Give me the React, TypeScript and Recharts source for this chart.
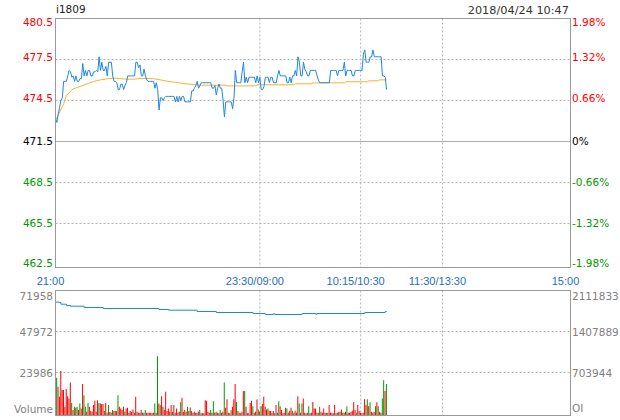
import React from 'react';
import { ComposedChart, Line, Bar, Cell, XAxis, YAxis, CartesianGrid, ReferenceLine } from 'recharts';

const CODE = 'i1809';
const STAMP = '2018/04/24 10:47';

// x is the minute slot of the trading day (21:00 ... 15:00)
const TIME_TICKS = [0, 150, 224, 284, 378];
const TIME_LABELS = ['21:00', '23:30/09:00', '10:15/10:30', '11:30/13:30', '15:00'];

const PRE_CLOSE = 471.5;
const PRICE_TICKS = [462.5, 465.5, 468.5, 471.5, 474.5, 477.5, 480.5];
const PCT_LABELS = ['-1.98%', '-1.32%', '-0.66%', '0%', '0.66%', '1.32%', '1.98%'];

const VOL_TICKS = [0, 23986, 47972, 71958];
const VOL_LABELS = ['Volume', '23986', '47972', '71958'];
const OI_TICKS = [0, 703944, 1407889, 2111833];
const OI_LABELS = ['OI', '703944', '1407889', '2111833'];

// last price, one per minute
const PRICE = [
  473.2, 472.9, 473.5, 474.0, 474.5, 474.7, 475.9, 475.9, 475.9, 476.3,
  476.7, 476.6, 476.2, 476.3, 475.9, 476.3, 475.9, 475.9, 476.1, 476.1,
  477.2, 476.3, 476.7, 476.3, 476.7, 476.7, 476.3, 476.3, 476.6, 476.6,
  476.7, 476.6, 477.7, 476.7, 477.3, 476.7, 476.7, 477.0, 476.3, 477.3,
  477.3, 477.3, 476.3, 475.9, 475.9, 475.8, 475.3, 475.3, 475.7, 475.7,
  475.3, 475.6, 475.8, 476.3, 476.3, 476.3, 476.3, 476.3, 476.3, 477.3,
  477.3, 476.9, 477.1, 476.3, 476.3, 476.8, 476.3, 476.0, 475.9, 475.9,
  475.9, 475.9, 475.9, 475.4, 475.8, 475.3, 473.8, 474.7, 474.7, 474.5,
  474.7, 474.8, 474.8, 474.8, 474.8, 474.8, 474.8, 474.8, 474.4, 474.8,
  474.4, 474.8, 474.5, 474.8, 474.8, 474.4, 474.4, 474.4, 474.4, 474.4,
  475.2, 475.2, 475.4, 475.6, 475.9, 475.4, 475.6, 475.8, 475.8, 475.8,
  475.8, 475.8, 475.8, 475.8, 475.8, 475.4, 475.4, 475.6, 474.9, 475.4,
  475.7, 475.4, 475.4, 474.5, 473.3, 474.4, 474.4, 474.4, 474.4, 474.4,
  473.9, 474.7, 476.7, 475.8, 475.8, 475.8, 475.8, 476.6, 477.3, 475.8,
  476.2, 475.8, 476.2, 476.2, 476.2, 476.2, 476.2, 475.8, 476.3, 475.8,
  476.2, 475.3, 475.3, 475.5, 476.2, 476.2, 476.2, 475.8, 476.2, 476.2,
  475.8, 475.8, 475.8, 476.3, 476.7, 476.3, 476.3, 476.3, 476.3, 476.3,
  475.8, 475.8, 476.2, 475.8, 476.3, 476.3, 476.7, 476.3, 477.7, 477.3,
  476.3, 476.3, 477.3, 476.8, 476.6, 476.3, 476.3, 476.7, 476.7, 476.7,
  476.7, 476.7, 476.3, 476.0, 475.8, 475.8, 475.8, 475.8, 475.8, 475.8,
  475.8, 475.8, 476.7, 476.7, 476.7, 476.7, 476.7, 476.3, 476.7, 476.7,
  476.7, 476.7, 477.3, 476.3, 476.7, 476.7, 476.7, 476.7, 476.3, 476.3,
  476.7, 476.7, 476.7, 476.7, 476.7, 476.7, 477.9, 478.2, 477.3, 477.3,
  477.3, 477.7, 477.7, 478.2, 477.7, 477.7, 477.7, 477.7, 477.7, 477.7,
  476.3, 476.3, 476.2, 475.3,
];

// average price, read at these minutes
const AVG_IDX = [
  0, 1, 3, 6, 8, 11, 13, 18, 23, 28, 33, 38, 43, 47, 52, 57, 62, 67, 72, 77,
  82, 87, 92, 96, 101, 106, 125, 126, 147, 148, 175, 176, 188, 189, 212, 213, 229, 230, 237, 238, 243,
];
const AVG_VAL = [
  473.3, 473.16, 473.65, 474.26, 474.87, 475.18, 475.35, 475.52, 475.72, 475.89,
  476.01, 476.09, 476.13, 476.11, 476.06, 476.06, 476.11, 476.11, 476.09, 476.01,
  475.91, 475.84, 475.77, 475.72, 475.67, 475.62, 475.62, 475.57, 475.57, 475.65,
  475.65, 475.72, 475.72, 475.79, 475.79, 475.87, 475.87, 475.94, 475.94, 476.01, 476.01,
];

// volume per minute, r = up, g = down
const VOLUME = [
  65900, 20900, 15600, 9800, 24800, 13700, 13700, 3900, 14400, 10100,
  8800, 18100, 6200, 2000, 3900, 3300, 3900, 2000, 5900, 2900,
  17200, 10700, 3900, 1000, 6200, 3900, 1400, 1000, 4900,
  7400, 1000, 7800, 6200, 5900, 5500, 5500, 1400, 6200, 400,
  4900, 1000, 400, 2000, 1400, 1400, 1400, 10700, 3900, 2900,
  2000, 3900, 1000, 2900, 3300, 400, 1400, 1000, 2300, 400,
  9800, 1000, 400, 400, 2000, 400, 400, 2000, 400, 400,
  400, 400, 200, 400, 5900, 400, 33500, 5900, 4900, 10100,
  3900, 2000, 12700, 1400, 2900, 1000, 4900, 1000, 4900, 400,
  2900, 400, 1000, 6600, 9200, 1000, 2000, 1000, 3900, 1400,
  3500, 1400, 400, 1000, 400, 400, 1000,
  2000, 200, 200, 200, 7800, 7400, 1000, 400, 2000, 400,
  7200, 400, 1000, 400, 200, 2000, 400, 1000, 18100, 3300,
  8400, 400, 200, 2000, 3900, 8400, 17200, 6800, 1400, 400,
  200, 1000, 13100, 13100, 3900, 200, 200, 6200, 7400, 4300,
  400, 1000, 8200, 2300, 1000, 4300, 5500, 9800, 3900, 2300,
  2900, 1600, 1400, 400, 1400, 200, 4900, 400, 7200, 4300,
  2000, 200, 400, 3300, 2900, 400, 1600, 3300, 1600, 400,
  1600, 400, 10100, 5900, 400, 5900, 8800, 400, 200, 400,
  4300, 200, 400, 6800, 2900, 2900, 400, 400, 3900, 1000,
  400, 2900, 400, 400, 400, 4900, 400, 400, 200, 4900,
  200, 400, 1000, 1000, 2300, 400, 400, 1000, 4300, 400,
  400, 1000, 1600, 6600, 2000, 400, 4900, 1400, 400, 200,
  400, 8400, 4900, 8400, 4300, 6600, 1000, 400, 1000, 4300,
  6600, 4300, 1000, 400, 8800, 19500, 13100, 17200,
];
const VOL_SIDE = [
  'rgrrrrrrrr', 'rrgrgrgrgr', 'rggrgrrrr', 'rrrgrrrgrr', 'grrgrrrgrr', 'rrgrrrrrrr',
  'rrgrrgrgrr', 'rrrrgrgrgr', 'rrrrrrrgrr', 'rrrgrrrrgr', 'rgrrrrr',
  'grrrrrrrgr', 'grrgrgrrgr', 'rrrgrrrgrr', 'rrrgrrrrrg', 'rrrgrgrrrr', 'grrrrgrrgr',
  'rrrrgrrrgr', 'rrrgrgrrgr', 'grrrrrrrgr', 'rrrgrrrrrr', 'grrgrrgrgr', 'rrrrrgrrrr',
  'rrrgrgrrrg', 'rgrrggrg',
].join('');

// open interest, step changes at these minutes
const OI_IDX = [0, 3, 4, 8, 11, 21, 35, 76, 83, 104, 118, 145, 154, 160, 161, 181, 191, 192, 227, 242, 243];
const OI_VAL = [
  1910900, 1906000, 1876600, 1854300, 1842300, 1819900, 1802800, 1785600, 1773600, 1751300,
  1734100, 1717000, 1699800, 1712000, 1699800, 1717000, 1705000, 1717000, 1734100, 1751300, 1760000,
];

const PRICE_DOMAIN = [462.28, 480.5];
const VOL_DOMAIN = [-1170, 71958];
const OI_DOMAIN = [-34342, 2111833];

const rows = PRICE.map((p, i) => ({
  i,
  price: p,
  avg: null as number | null,
  vol: [VOL_DOMAIN[0], VOLUME[i]],
  oi: null as number | null,
}));
AVG_IDX.forEach((idx, k) => { rows[idx].avg = AVG_VAL[k]; });
OI_IDX.forEach((idx, k) => { rows[idx].oi = OI_VAL[k]; });

const FONT = '"DejaVu Sans", sans-serif';
const RED = '#ff0000';
const GREEN = '#009900';
const BLUE = '#1f86e0';
const ORANGE = '#f7b130';
const GRID = '#b4b4b4';
const BORDER = '#999999';

const sideColor = (v: number) => (v > PRE_CLOSE ? RED : v < PRE_CLOSE ? GREEN : '#000');

const PriceTick = (props: any) => {
  const { y, payload } = props;
  const v = payload.value;
  const off = v === 480.5 ? 3.5 : v === 462.5 ? -1.5 : v > PRE_CLOSE ? -2 : 0;
  return (
    <text x={53} y={y + off} dy="0.36em" textAnchor="end" fontSize={10.5} fontFamily={FONT} fill={sideColor(v)}>
      {v.toFixed(1)}
    </text>
  );
};

const PctTick = (props: any) => {
  const { y, payload } = props;
  const v = payload.value;
  const k = PRICE_TICKS.indexOf(v);
  const off = v === 480.5 ? 3.5 : v === 462.5 ? -1.5 : v > PRE_CLOSE ? -2 : 0;
  return (
    <text x={572} y={y + off} dy="0.36em" textAnchor="start" fontSize={10.5} fontFamily={FONT} fill={sideColor(v)}>
      {PCT_LABELS[k]}
    </text>
  );
};

const TimeTick = (props: any) => {
  const { x, payload } = props;
  const k = TIME_TICKS.indexOf(payload.value);
  return (
    <text x={x - 5} y={284.5} textAnchor="middle" fontSize={11} fontFamily='"Liberation Sans", Arial, sans-serif' fill="#1f70b8">
      {TIME_LABELS[k]}
    </text>
  );
};

const makeLowerTick = (ticks: number[], labels: string[], x: number, anchor: 'start' | 'end') => (props: any) => {
  const { y, payload } = props;
  const k = ticks.indexOf(payload.value);
  if (k === 0) {
    return (
      <text x={x} y={y - 1} textAnchor={anchor} fontSize={10.5} fontFamily={FONT} fill="#808080">
        {labels[k]}
      </text>
    );
  }
  const off = k === ticks.length - 1 ? 5.5 : 1;
  return (
    <text x={x} y={y + off} dy="0.36em" textAnchor={anchor} fontSize={10.5} fontFamily={FONT} fill="#808080">
      {labels[k]}
    </text>
  );
};

const VolTick = makeLowerTick(VOL_TICKS, VOL_LABELS, 53, 'end');
const OiTick = makeLowerTick(OI_TICKS, OI_LABELS, 572, 'start');

export default function App() {
  return (
    <div style={{ position: 'absolute', left: 0, top: 0, width: 620, height: 420, background: '#fff' }}>
      <div style={{ position: 'absolute', left: 0, top: 0 }}>
        <ComposedChart width={620} height={290} data={rows} margin={{ top: 18.5, right: 0, bottom: 0, left: 0 }}>
          <CartesianGrid
            yAxisId="p"
            stroke={GRID}
            strokeDasharray="2 2"
            horizontalValues={[465.5, 468.5, 474.5, 477.5]}
            verticalValues={[150, 224, 284]}
          />
          <XAxis
            dataKey="i"
            type="number"
            domain={[0, 378]}
            ticks={TIME_TICKS}
            interval={0}
            allowDataOverflow
            axisLine={false}
            tickLine={false}
            height={22.5}
            tick={TimeTick}
          />
          <YAxis
            yAxisId="p"
            type="number"
            domain={PRICE_DOMAIN}
            ticks={PRICE_TICKS}
            interval={0}
            allowDataOverflow
            axisLine={false}
            tickLine={false}
            width={55.5}
            tick={PriceTick}
          />
          <YAxis
            yAxisId="pct"
            orientation="right"
            type="number"
            domain={PRICE_DOMAIN}
            ticks={PRICE_TICKS}
            interval={0}
            allowDataOverflow
            axisLine={false}
            tickLine={false}
            width={49.5}
            tick={PctTick}
          />
          <ReferenceLine yAxisId="p" y={PRE_CLOSE} stroke="#aaaaaa" />
          <Line yAxisId="p" dataKey="avg" type="linear" stroke={ORANGE} strokeWidth={1} dot={false} connectNulls isAnimationActive={false} />
          <Line yAxisId="p" dataKey="price" type="linear" stroke={BLUE} strokeWidth={1} dot={false} isAnimationActive={false} />
        </ComposedChart>
      </div>

      <div style={{ position: 'absolute', left: 0, top: 280 }}>
        <ComposedChart width={620} height={140} data={rows} margin={{ top: 10.5, right: 0, bottom: 4.5, left: 0 }}>
          <CartesianGrid
            yAxisId="v"
            stroke={GRID}
            strokeDasharray="2 2"
            horizontalValues={[23986, 47972]}
            verticalValues={[150, 224, 284]}
          />
          <XAxis dataKey="i" type="number" domain={[0, 378]} ticks={TIME_TICKS} allowDataOverflow hide />
          <YAxis
            yAxisId="v"
            type="number"
            domain={VOL_DOMAIN}
            ticks={VOL_TICKS}
            interval={0}
            allowDataOverflow
            axisLine={false}
            tickLine={false}
            width={55.5}
            tick={VolTick}
          />
          <YAxis
            yAxisId="oi"
            orientation="right"
            type="number"
            domain={OI_DOMAIN}
            ticks={OI_TICKS}
            interval={0}
            allowDataOverflow
            axisLine={false}
            tickLine={false}
            width={49.5}
            tick={OiTick}
          />
          <Bar yAxisId="v" dataKey="vol" barSize={1} isAnimationActive={false}>
            {VOLUME.map((_, i) => (
              <Cell key={i} fill={VOL_SIDE[i] === 'g' ? GREEN : RED} />
            ))}
          </Bar>
          <Line yAxisId="oi" dataKey="oi" type="stepAfter" stroke={BLUE} strokeWidth={1} dot={false} connectNulls isAnimationActive={false} />
        </ComposedChart>
      </div>

      <svg width={620} height={420} style={{ position: 'absolute', left: 0, top: 0, pointerEvents: 'none' }}>
        <text x={56} y={13} fontSize={10.5} fontFamily={FONT} fill="#222">{CODE}</text>
        <text x={569} y={13.5} textAnchor="end" fontSize={11.3} fontFamily={FONT} fill="#333">{STAMP}</text>
        <rect x={55.5} y={18.5} width={515} height={249} fill="none" stroke={BORDER} />
        <rect x={55.5} y={290.5} width={515} height={125} fill="none" stroke={BORDER} />
      </svg>
    </div>
  );
}
